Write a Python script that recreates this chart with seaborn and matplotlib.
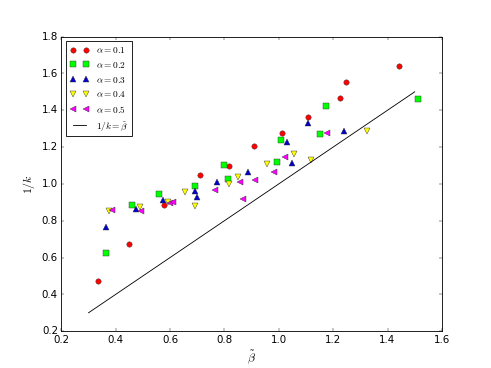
import matplotlib
matplotlib.use("Agg")
import matplotlib.pyplot as plt
import seaborn as sns
import pandas as pd

plt.style.use("classic")
plt.rcParams["mathtext.fontset"] = "cm"

# data
x_a01 = [0.336, 0.450, 0.579, 0.710, 0.817, 0.909, 1.011, 1.107, 1.225, 1.247, 1.443]
y_a01 = [0.472, 0.676, 0.884, 1.048, 1.097, 1.207, 1.278, 1.363, 1.467, 1.556, 1.641]

x_a02 = [0.363, 0.459, 0.560, 0.692, 0.800, 0.814, 0.992, 1.008, 1.151, 1.173, 1.512]
y_a02 = [0.627, 0.884, 0.944, 0.990, 1.100, 1.026, 1.120, 1.240, 1.269, 1.425, 1.460]

x_a03 = [0.363, 0.475, 0.575, 0.692, 0.699, 0.774, 0.886, 1.031, 1.048, 1.107, 1.240]
y_a03 = [0.766, 0.865, 0.912, 0.962, 0.928, 1.010, 1.064, 1.225, 1.113, 1.331, 1.287]

x_a04 = [0.375, 0.489, 0.592, 0.655, 0.692, 0.818, 0.849, 0.958, 1.056, 1.117, 1.323]
y_a04 = [0.854, 0.875, 0.902, 0.957, 0.879, 1.000, 1.035, 1.106, 1.160, 1.129, 1.286]

x_a05 = [0.385, 0.493, 0.600, 0.612, 0.766, 0.857, 0.867, 0.913, 0.982, 1.023, 1.178]
y_a05 = [0.857, 0.852, 0.895, 0.901, 0.966, 1.008, 0.919, 1.020, 1.063, 1.147, 1.274]

ref_x = [0.3, 1.5]
ref_y = [0.3, 1.5]

labels = [r"$\alpha=0.1$", r"$\alpha=0.2$", r"$\alpha=0.3$", r"$\alpha=0.4$", r"$\alpha=0.5$"]
ref_label = r"$1/k=\tilde{\beta}$"

series = [(x_a01, y_a01), (x_a02, y_a02), (x_a03, y_a03), (x_a04, y_a04), (x_a05, y_a05)]
colors = ["#ff0000", "#00ff00", "#0000cc", "#ffff00", "#ff00ff"]
markers = ["o", "s", "^", "v", "<"]

fig, ax = plt.subplots(figsize=(8, 6), dpi=61.375)

for (xs, ys), lab, col, mk in zip(series, labels, colors, markers):
    df = pd.DataFrame({"x": xs, "y": ys})
    sns.lineplot(data=df, x="x", y="y", ax=ax, sort=False, estimator=None,
                 linestyle="none", marker=mk, color=col, markersize=6.3,
                 markeredgecolor="#333333", markeredgewidth=0.5, label=lab)

dref = pd.DataFrame({"x": ref_x, "y": ref_y})
sns.lineplot(data=dref, x="x", y="y", ax=ax, color="black", linewidth=1,
             label=ref_label, sort=False, estimator=None)

ax.set_xlim(0.2, 1.6)
ax.set_ylim(0.2, 1.8)
ax.set_xlabel(r"$\tilde{\beta}$", fontsize=14)
ax.set_ylabel(r"$1/k$", fontsize=14)
ax.legend(loc="upper left", numpoints=2, fontsize=11)

fig.savefig("out.png", dpi=61.375)
